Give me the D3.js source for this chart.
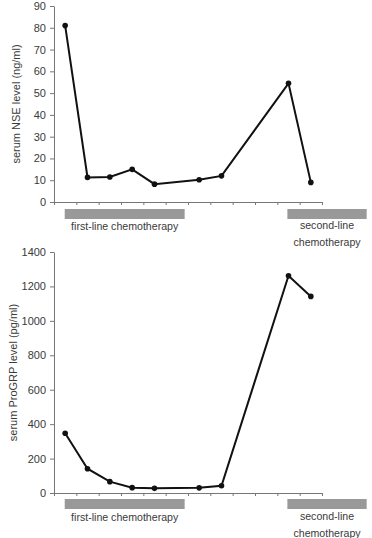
<!DOCTYPE html>
<html>
<head>
<meta charset="utf-8">
<script src="https://cdn.jsdelivr.net/npm/d3@7"></script>
<style>
  body { margin: 0; background: #fff; }
  text { font-family: Arial, "Liberation Sans", sans-serif; }
</style>
</head>
<body>
<div id="chart"></div>
<script>
// time points (category index, 1..12) where samples were taken
const timepoints = [1, 2, 3, 4, 5, 7, 8, 11, 12];
const nseValues = [81, 11.3, 11.5, 15, 8.2, 10.2, 12, 54.5, 9];
const progrpValues = [347, 141, 66, 31, 27, 30, 42, 1262, 1142];
const nseTicks = [0, 10, 20, 30, 40, 50, 60, 70, 80, 90];
const progrpTicks = [0, 200, 400, 600, 800, 1000, 1200, 1400];
// treatment periods, in category units
const firstLine = [0.48, 5.85];
const secondLine = [10.45, 14];

const width = 372, height = 538;
const svg = d3.select("#chart").append("svg")
    .attr("width", width)
    .attr("height", height);

const x = d3.scaleLinear().domain([0, 12]).range([54, 322]);

function panel(values, ticks, yTop, yBottom, label, labelX, barY, textY) {
    const y = d3.scaleLinear()
        .domain([0, ticks[ticks.length - 1]])
        .range([yBottom, yTop]);

    // y axis
    const ya = svg.append("g")
        .attr("transform", `translate(${x(0)},0)`)
        .call(d3.axisLeft(y).tickValues(ticks).tickFormat(d3.format("d"))
            .tickSize(4).tickPadding(4).tickSizeOuter(0));
    ya.select(".domain").attr("stroke", "#777");
    ya.selectAll(".tick line").attr("stroke", "#777");
    ya.selectAll(".tick text")
        .attr("fill", "#3a3a3a")
        .style("font-size", "11px")
        .style("font-family", "Arial, 'Liberation Sans', sans-serif");

    // x axis (no labels)
    const xa = svg.append("g")
        .attr("transform", `translate(0,${yBottom})`)
        .call(d3.axisBottom(x).tickValues(d3.range(0, 13)).tickFormat("").tickSize(3).tickSizeOuter(0));
    xa.select(".domain").attr("stroke", "#777");
    xa.selectAll(".tick line").attr("stroke", "#777");

    // axis title
    svg.append("text")
        .attr("transform", `translate(${labelX},${(yTop + yBottom) / 2}) rotate(-90)`)
        .attr("text-anchor", "middle")
        .attr("dominant-baseline", "central")
        .attr("fill", "#3a3a3a")
        .style("font-size", "11px")
        .text(label);

    const pts = timepoints.map((t, i) => ({ t: t, v: values[i] }));

    const line = d3.line()
        .x(d => x(d.t - 0.5))
        .y(d => y(d.v));

    svg.append("path")
        .datum(pts)
        .attr("fill", "none")
        .attr("stroke", "#111")
        .attr("stroke-width", 2)
        .attr("d", line);

    svg.append("g")
        .selectAll("circle")
        .data(pts)
        .enter()
        .append("circle")
        .attr("cx", d => x(d.t - 0.5))
        .attr("cy", d => y(d.v))
        .attr("r", 2.8)
        .attr("fill", "#111");

    // chemotherapy bars
    [firstLine, secondLine].forEach(p => {
        svg.append("rect")
            .attr("x", x(p[0]))
            .attr("y", barY)
            .attr("width", x(p[1]) - x(p[0]))
            .attr("height", 10)
            .attr("fill", "#999");
    });

    svg.append("text")
        .attr("x", (x(firstLine[0]) + x(firstLine[1])) / 2)
        .attr("y", textY)
        .attr("text-anchor", "middle")
        .attr("fill", "#3a3a3a")
        .style("font-size", "10.6px")
        .text("first-line chemotherapy");

    const cx2 = (x(secondLine[0]) + x(secondLine[1])) / 2;
    svg.append("text")
        .attr("x", cx2)
        .attr("y", textY - 1)
        .attr("text-anchor", "middle")
        .attr("fill", "#3a3a3a")
        .style("font-size", "10.6px")
        .text("second-line");
    svg.append("text")
        .attr("x", cx2)
        .attr("y", textY + 15.5)
        .attr("text-anchor", "middle")
        .attr("fill", "#3a3a3a")
        .style("font-size", "10.6px")
        .text("chemotherapy");
}

panel(nseValues, nseTicks, 6, 202, "serum NSE level (ng/ml)", 16, 209, 230);
panel(progrpValues, progrpTicks, 252, 493, "serum ProGRP level (pg/ml)", 13, 499, 521);
</script>
</body>
</html>
